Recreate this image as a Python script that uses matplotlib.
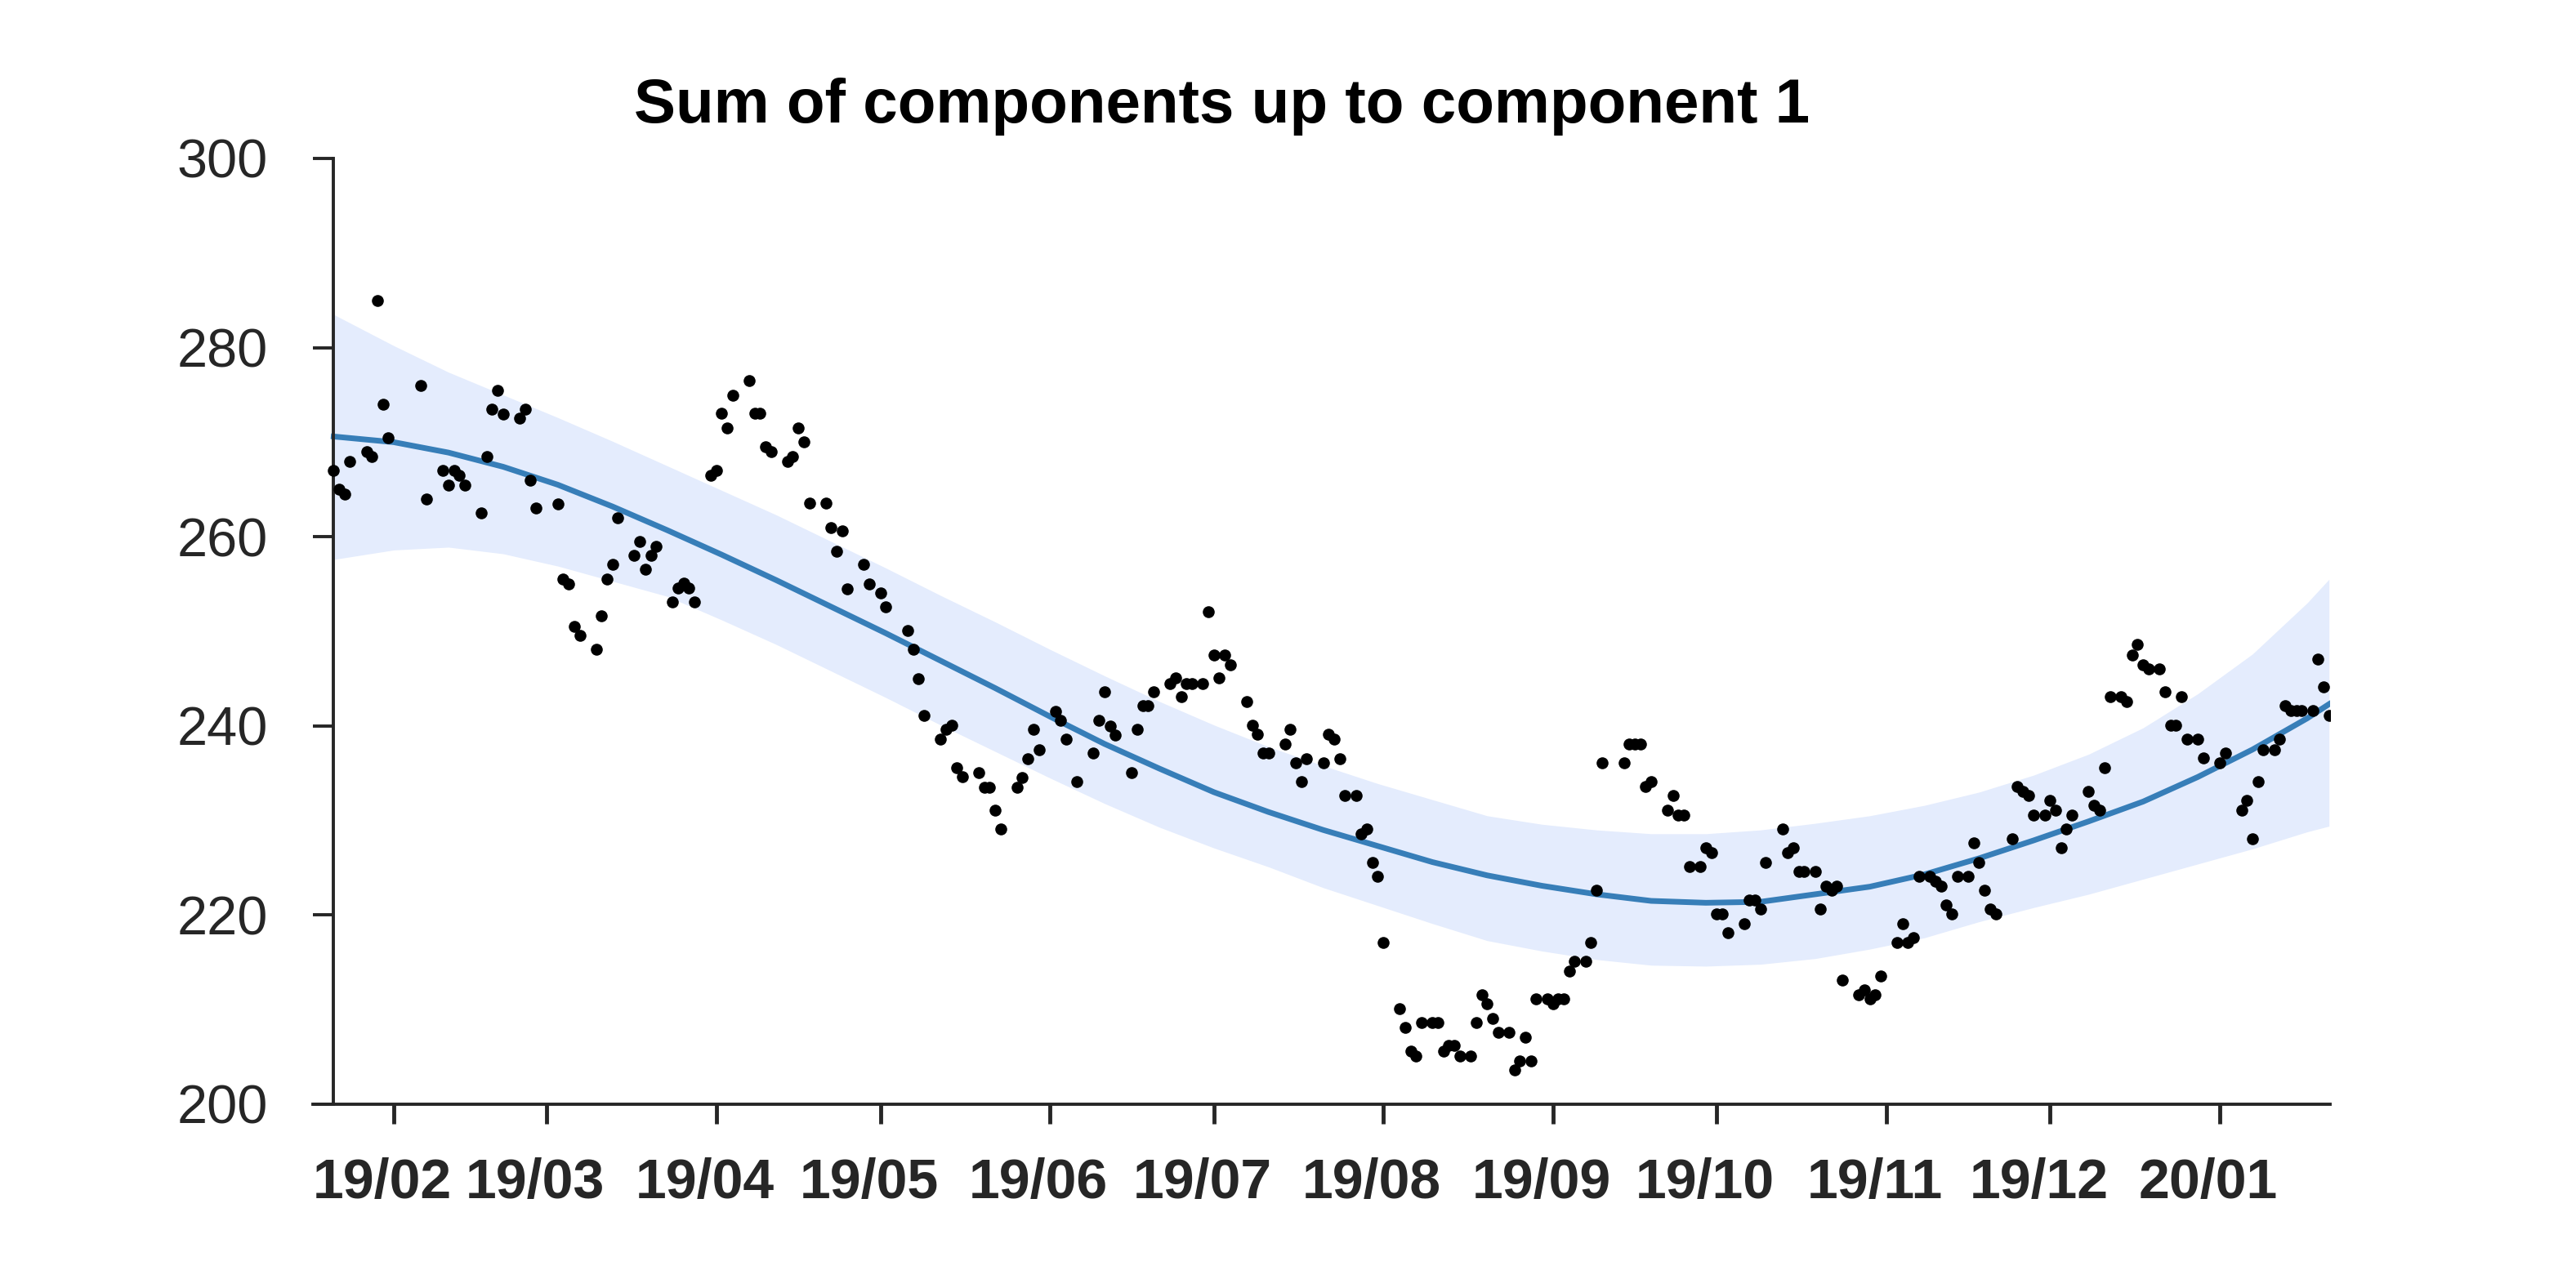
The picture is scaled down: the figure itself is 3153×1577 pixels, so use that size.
import matplotlib
matplotlib.use('Agg')
import matplotlib.pyplot as plt
import matplotlib.transforms as mtransforms
import pandas as pd

plt.rcParams['font.family'] = ['Liberation Sans', 'DejaVu Sans']

# observed values, one pair of lists per month (day of month, value)
jan19_day = [21, 22, 23, 24, 27, 28, 29, 30, 31]
jan19_val = [267.0, 265.0, 264.5, 268.0, 269.0, 268.5, 285.0, 274.0, 270.5]

feb19_day = [6, 7, 10, 11, 12, 13, 14, 17, 18, 19, 20, 21, 24, 25, 26, 27]
feb19_val = [276.0, 264.0, 267.0, 265.5, 267.0, 266.5, 265.5, 262.5, 268.5,
             273.5, 275.5, 273.0, 272.5, 273.5, 266.0, 263.0]

mar19_day = [3, 4, 5, 6, 7, 10, 11, 12, 13, 14, 17, 18, 19, 20, 21,
             24, 25, 26, 27, 28, 31]
mar19_val = [263.5, 255.5, 255.0, 250.5, 249.6, 248.1, 251.6, 255.5, 257.1,
             262.0, 258.0, 259.5, 256.6, 258.0, 259.0, 253.1, 254.6, 255.1,
             254.6, 253.1, 266.5]

apr19_day = [1, 2, 3, 4, 7, 8, 9, 10, 11, 14, 15, 16, 17, 18, 21, 22, 23,
             24, 25, 28, 29]
apr19_val = [267.0, 273.1, 271.5, 275.0, 276.5, 273.1, 273.1, 269.5, 269.0,
             268.0, 268.5, 271.5, 270.0, 263.6, 263.6, 261.0, 258.5, 260.6,
             254.5, 257.1, 255.0]

may19_day = [1, 2, 6, 7, 8, 9, 12, 13, 14, 15, 16, 19, 20, 21, 22, 23,
             26, 27, 28, 29, 30]
may19_val = [254.1, 252.6, 250.1, 248.1, 245.0, 241.1, 238.6, 239.6, 240.1,
             235.6, 234.6, 235.1, 233.5, 233.5, 231.1, 229.1, 233.5, 234.5,
             236.5, 239.6, 237.5]

jun19_day = [2, 3, 4, 6, 9, 10, 11, 12, 13, 16, 17, 18, 19, 20, 23, 24,
             25, 26, 27, 29, 30]
jun19_val = [241.5, 240.6, 238.6, 234.1, 237.1, 240.6, 243.6, 240.0, 239.0,
             235.1, 239.6, 242.1, 242.1, 243.6, 244.5, 245.1, 243.1, 244.5,
             244.5, 244.5, 252.1]

jul19_day = [1, 2, 3, 4, 7, 8, 9, 10, 11, 14, 15, 16, 17, 18, 21, 22, 23,
             24, 25, 27, 28, 29, 30, 31]
jul19_val = [247.5, 245.1, 247.5, 246.5, 242.6, 240.1, 239.1, 237.1, 237.1,
             238.1, 239.6, 236.1, 234.1, 236.5, 236.1, 239.1, 238.6, 236.5,
             232.6, 232.6, 228.6, 229.1, 225.6, 224.1]

aug19_day = [1, 4, 5, 6, 7, 8, 10, 11, 12, 13, 14, 15, 17, 18, 19, 20, 21,
             22, 24, 25, 26, 27, 28, 29, 31]
aug19_val = [217.1, 210.1, 208.1, 205.6, 205.1, 208.6, 208.6, 208.6, 205.6,
             206.2, 206.2, 205.1, 205.1, 208.6, 211.6, 210.6, 209.1, 207.6,
             207.6, 203.6, 204.6, 207.1, 204.6, 211.1, 211.1]

sep19_day = [1, 2, 3, 4, 5, 7, 8, 9, 10, 14, 15, 16, 17, 18, 19, 22, 23,
             24, 25, 26, 28, 29, 30]
sep19_val = [210.6, 211.1, 211.1, 214.1, 215.1, 215.1, 217.1, 222.6, 236.1,
             236.1, 238.1, 238.1, 238.1, 233.6, 234.1, 231.1, 232.6, 230.6,
             230.6, 225.1, 225.1, 227.1, 226.6]

oct19_day = [1, 2, 3, 6, 7, 8, 9, 10, 13, 14, 15, 16, 17, 19, 20, 21, 22,
             23, 24, 27, 28, 29, 30, 31]
oct19_val = [220.1, 220.1, 218.1, 219.1, 221.6, 221.6, 220.6, 225.6, 229.1,
             226.6, 227.1, 224.6, 224.6, 224.6, 220.6, 223.1, 222.6, 223.1,
             213.1, 211.6, 212.1, 211.1, 211.6, 213.6]

nov19_day = [3, 4, 5, 6, 7, 9, 10, 11, 12, 13, 14, 16, 17, 18, 19, 20, 21,
             24, 25, 26, 27, 28, 30]
nov19_val = [217.1, 219.1, 217.1, 217.6, 224.1, 224.1, 223.6, 223.1, 221.1,
             220.1, 224.1, 224.1, 227.6, 225.6, 222.6, 220.6, 220.1, 228.1,
             233.6, 233.1, 232.6, 230.6, 230.6]

dec19_day = [1, 2, 3, 4, 5, 8, 9, 10, 11, 12, 14, 15, 16, 17, 18, 19, 21,
             22, 23, 24, 25, 26, 28, 29]
dec19_val = [232.1, 231.1, 227.1, 229.1, 230.6, 233.1, 231.6, 231.1, 235.6,
             243.1, 243.1, 242.6, 247.5, 248.6, 246.5, 246.0, 246.0, 243.6,
             240.1, 240.1, 243.1, 238.6, 238.6, 236.6]

jan20_day = [1, 2, 5, 6, 7, 8, 9, 11, 12, 13, 14, 15, 16, 18, 19, 20, 21]
jan20_val = [236.1, 237.1, 231.1, 232.1, 228.1, 234.1, 237.5, 237.5, 238.6,
             242.1, 241.6, 241.6, 241.6, 241.6, 247.1, 244.1, 241.1]

# fitted component and its band, read every 10 days (days after 2019-02-01)
fit_day = [-11, 0, 10, 20, 30, 40, 50, 60, 70, 80, 90, 100, 110, 120, 130,
           140, 150, 160, 170, 180, 190, 200, 210, 220, 230, 240, 250, 260,
           270, 280, 290, 300, 310, 320, 330, 340, 350, 354]
fit_mean = [270.6, 270.0, 268.9, 267.4, 265.5, 263.2, 260.7, 258.1, 255.4,
            252.6, 249.8, 246.9, 244.0, 241.0, 238.1, 235.5, 233.0, 230.9,
            229.0, 227.3, 225.6, 224.2, 223.1, 222.2, 221.5, 221.3, 221.4,
            222.2, 223.0, 224.3, 226.0, 227.9, 229.9, 232.0, 234.6, 237.5,
            240.8, 242.3]
fit_upper = [283.5, 280.2, 277.4, 275.0, 272.6, 270.1, 267.5, 264.9, 262.3,
             259.5, 256.7, 253.8, 251.0, 248.1, 245.3, 242.6, 240.1, 237.8,
             235.8, 233.9, 232.2, 230.5, 229.6, 229.0, 228.6, 228.6, 229.0,
             229.7, 230.5, 231.6, 233.0, 234.8, 237.0, 239.8, 243.4, 247.6,
             253.0, 255.5]
fit_lower = [257.6, 258.6, 258.9, 258.2, 256.9, 255.3, 253.7, 251.2, 248.6,
             245.8, 243.0, 240.1, 237.3, 234.5, 231.8, 229.3, 227.1, 225.1,
             222.9, 221.0, 219.1, 217.3, 216.2, 215.3, 214.7, 214.6, 214.8,
             215.4, 216.4, 217.6, 219.3, 220.8, 222.2, 223.8, 225.4, 227.0,
             228.8, 229.4]

tick_dates = ['2019-02-01', '2019-03-01', '2019-04-01', '2019-05-01',
              '2019-06-01', '2019-07-01', '2019-08-01', '2019-09-01',
              '2019-10-01', '2019-11-01', '2019-12-01', '2020-01-01']
y_ticks = [200, 220, 240, 260, 280, 300]

months = [('2019-01', jan19_day, jan19_val), ('2019-02', feb19_day, feb19_val),
          ('2019-03', mar19_day, mar19_val), ('2019-04', apr19_day, apr19_val),
          ('2019-05', may19_day, may19_val), ('2019-06', jun19_day, jun19_val),
          ('2019-07', jul19_day, jul19_val), ('2019-08', aug19_day, aug19_val),
          ('2019-09', sep19_day, sep19_val), ('2019-10', oct19_day, oct19_val),
          ('2019-11', nov19_day, nov19_val), ('2019-12', dec19_day, dec19_val),
          ('2020-01', jan20_day, jan20_val)]

dates, vals = [], []
for ym, days, vv in months:
    dates += [pd.Timestamp(f'{ym}-{d:02d}') for d in days]
    vals += vv

x0 = pd.Timestamp('2019-02-01')
fit_x = [x0 + pd.Timedelta(days=d) for d in fit_day]
ticks = pd.to_datetime(tick_dates)

dark = '#262626'

fig = plt.figure(figsize=(31.53, 15.77), dpi=100)
ax = fig.add_axes([383 / 3153, 225 / 1577, 2469 / 3153, 1158 / 1577])

ax.fill_between(fit_x, fit_lower, fit_upper, color='#e4ecfd', lw=0, zorder=1)
ax.plot(fit_x, fit_mean, color='#377eb8', lw=5, zorder=2,
        solid_joinstyle='round')
ax.scatter(dates, vals, s=110, color='black', lw=0, zorder=3)

ax.set_xlim(x0 - pd.Timedelta(days=14.8), x0 + pd.Timedelta(days=354.2))
ax.set_ylim(200, 300)

for s in ['top', 'right']:
    ax.spines[s].set_visible(False)
ax.spines['left'].set_position(('data', matplotlib.dates.date2num(fit_x[0])))
for s in ['left', 'bottom']:
    ax.spines[s].set_linewidth(2.8)
    ax.spines[s].set_color(dark)

ax.set_yticks(y_ticks)
ax.set_xticks(ticks)
ax.set_xticklabels([t.strftime('%y/%m') for t in ticks], fontweight='bold')

ax.tick_params(axis='x', length=17, width=3.5, pad=30, labelsize=49,
               colors=dark, direction='out')
ax.tick_params(axis='y', length=18, width=2.8, pad=40, labelsize=48,
               colors=dark, direction='out')

# labels sit a little left of their ticks in the original
shift = mtransforms.ScaledTranslation(-0.14, 0, fig.dpi_scale_trans)
for lbl in ax.get_xticklabels():
    lbl.set_transform(lbl.get_transform() + shift)

fig.text(1496 / 3153, 1 - 130 / 1577, 'Sum of components up to component 1',
         fontsize=55, fontweight='bold', ha='center', va='center')

fig.savefig('out.png', dpi=100)
